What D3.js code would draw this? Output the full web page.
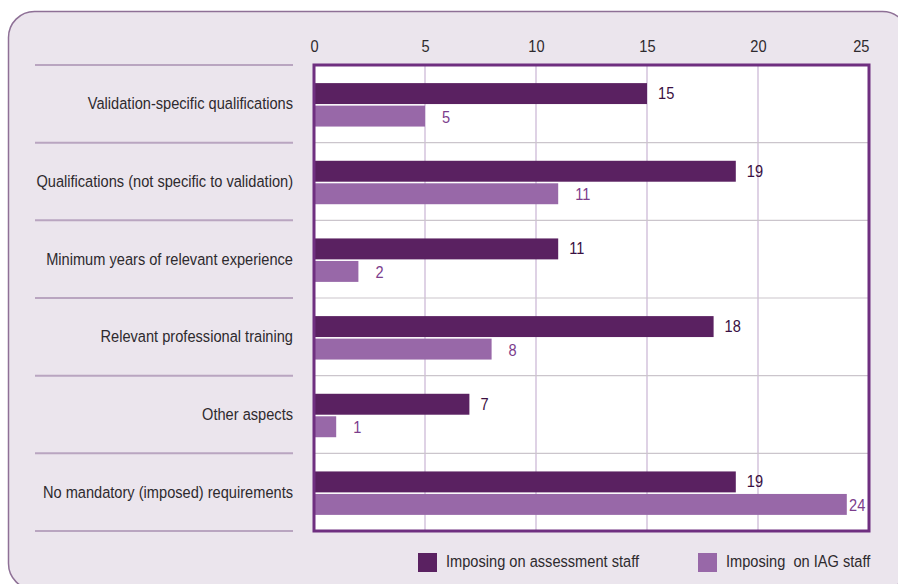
<!DOCTYPE html>
<html>
<head>
<meta charset="utf-8">
<script src="https://cdn.jsdelivr.net/npm/d3@7"></script>
<style>
  body { margin: 0; background: #fff; }
  svg { display: block; font-family: "Liberation Sans", Arial, sans-serif; }
</style>
</head>
<body>
<script>
const categories = [
    "Validation-specific qualifications",
    "Qualifications (not specific to validation)",
    "Minimum years of relevant experience",
    "Relevant professional training",
    "Other aspects",
    "No mandatory (imposed) requirements"
];
const assessmentStaff = [15, 19, 11, 18, 7, 19];
const iagStaff = [5, 11, 2, 8, 1, 24];
const seriesNames = ["Imposing on assessment staff", "Imposing  on IAG staff"];
const xTicks = [0, 5, 10, 15, 20, 25];

const width = 898;
const height = 584;
const plotLeft = 314, plotRight = 869, plotTop = 65, plotBottom = 531;
const darkColor = "#5a2161";
const lightColor = "#9868a8";
const narrow = 0.86; // squeeze text horizontally, the original uses a condensed face

const svg = d3.select("body")
    .append("svg")
    .attr("width", width)
    .attr("height", height);

// place text with a horizontal squeeze
function condensed(sel, fx, fy) {
    sel.attr("transform", (d, i) => `translate(${fx(d, i)},${fy(d, i)}) scale(${narrow},1)`);
}

// rounded panel behind the chart
svg.append("rect")
    .attr("x", 8.5).attr("y", 11.5)
    .attr("width", 900).attr("height", 578)
    .attr("rx", 26).attr("ry", 26)
    .attr("fill", "#ebe5ed")
    .attr("stroke", "#8e7096")
    .attr("stroke-width", 1.5);

const xScale = d3.scaleLinear().domain([0, 25]).range([plotLeft, plotRight]);
const yScale = d3.scaleBand().domain(categories).range([plotTop, plotBottom]);
const inner = d3.scaleBand().domain([0, 1]).range([0, yScale.bandwidth()]).paddingInner(0.07).paddingOuter(0.76);

// plot background
svg.append("rect")
    .attr("x", plotLeft).attr("y", plotTop)
    .attr("width", plotRight - plotLeft).attr("height", plotBottom - plotTop)
    .attr("fill", "#fff");

// vertical gridlines
svg.append("g")
    .selectAll("line")
    .data(xTicks.slice(1, -1))
    .join("line")
    .attr("x1", (d) => xScale(d)).attr("x2", (d) => xScale(d))
    .attr("y1", plotTop).attr("y2", plotBottom)
    .attr("stroke", "#c9b4d4")
    .attr("stroke-width", 1.2);

// category separators, inside plot and at left
const seps = d3.range(categories.length + 1).map((i) => plotTop + i * yScale.step());
svg.append("g")
    .selectAll("line")
    .data(seps.slice(1, -1))
    .join("line")
    .attr("x1", plotLeft).attr("x2", plotRight)
    .attr("y1", (d) => d).attr("y2", (d) => d)
    .attr("stroke", "#cbc5cc")
    .attr("stroke-width", 1.2);

svg.append("g")
    .selectAll("line")
    .data(seps)
    .join("line")
    .attr("x1", 35).attr("x2", 293)
    .attr("y1", (d) => d).attr("y2", (d) => d)
    .attr("stroke", "#b9a5c0")
    .attr("stroke-width", 2);

// category labels
svg.append("g")
    .selectAll("text")
    .data(categories)
    .join("text")
    .call(condensed, () => 293, (d) => yScale(d) + yScale.bandwidth() / 2 + 1)
    .attr("text-anchor", "end")
    .attr("dominant-baseline", "middle")
    .attr("fill", "#2e2a2e")
    .style("font-size", "17px")
    .text((d) => d);

// bars
const seriesData = [assessmentStaff, iagStaff];
const seriesColors = [darkColor, lightColor];
const labelColors = ["#3a1042", "#7c3d8c"];
const labelGap = [11, 17];

seriesData.forEach((values, s) => {
    const g = svg.append("g");
    g.selectAll("rect")
        .data(values)
        .join("rect")
        .attr("x", plotLeft)
        .attr("y", (d, i) => yScale(categories[i]) + inner(s) + 1)
        .attr("width", (d) => xScale(d) - plotLeft)
        .attr("height", inner.bandwidth())
        .attr("fill", seriesColors[s]);
    g.selectAll("text")
        .data(values)
        .join("text")
        .call(condensed,
            (d) => Math.min(xScale(d) + labelGap[s], plotRight - 20),
            (d, i) => yScale(categories[i]) + inner(s) + 1 + inner.bandwidth() / 2 + 1 + s)
        .attr("dominant-baseline", "middle")
        .attr("fill", labelColors[s])
        .style("font-size", "17px")
        .text((d) => d);
});

// plot border
svg.append("rect")
    .attr("x", plotLeft).attr("y", plotTop)
    .attr("width", plotRight - plotLeft).attr("height", plotBottom - plotTop)
    .attr("fill", "none")
    .attr("stroke", "#6f2f80")
    .attr("stroke-width", 3);

// top axis labels
const xAxis = d3.axisTop(xScale).tickValues(xTicks).tickSize(0).tickPadding(0);
svg.append("g")
    .attr("transform", `translate(0,${plotTop - 13})`)
    .call(xAxis)
    .call((g) => g.select(".domain").remove())
    .call((g) => g.selectAll("text")
        .attr("fill", "#2e2a2e")
        .attr("transform", `scale(${narrow},1)`)
        .attr("text-anchor", (d, i) => i === xTicks.length - 1 ? "end" : "middle")
        .style("font-size", "17px")
        .style("font-family", "inherit")
        .attr("dy", "0"));

// legend
const legend = svg.append("g");
const legendX = [418, 698];
seriesNames.forEach((name, s) => {
    legend.append("rect")
        .attr("x", legendX[s]).attr("y", 553)
        .attr("width", 19).attr("height", 19)
        .attr("fill", seriesColors[s]);
    legend.append("text")
        .attr("transform", `translate(${legendX[s] + 28},563) scale(${narrow},1)`)
        .attr("dominant-baseline", "middle")
        .attr("fill", "#2e2a2e")
        .style("font-size", "17px")
        .style("white-space", "pre")
        .text(name);
});
</script>
</body>
</html>
